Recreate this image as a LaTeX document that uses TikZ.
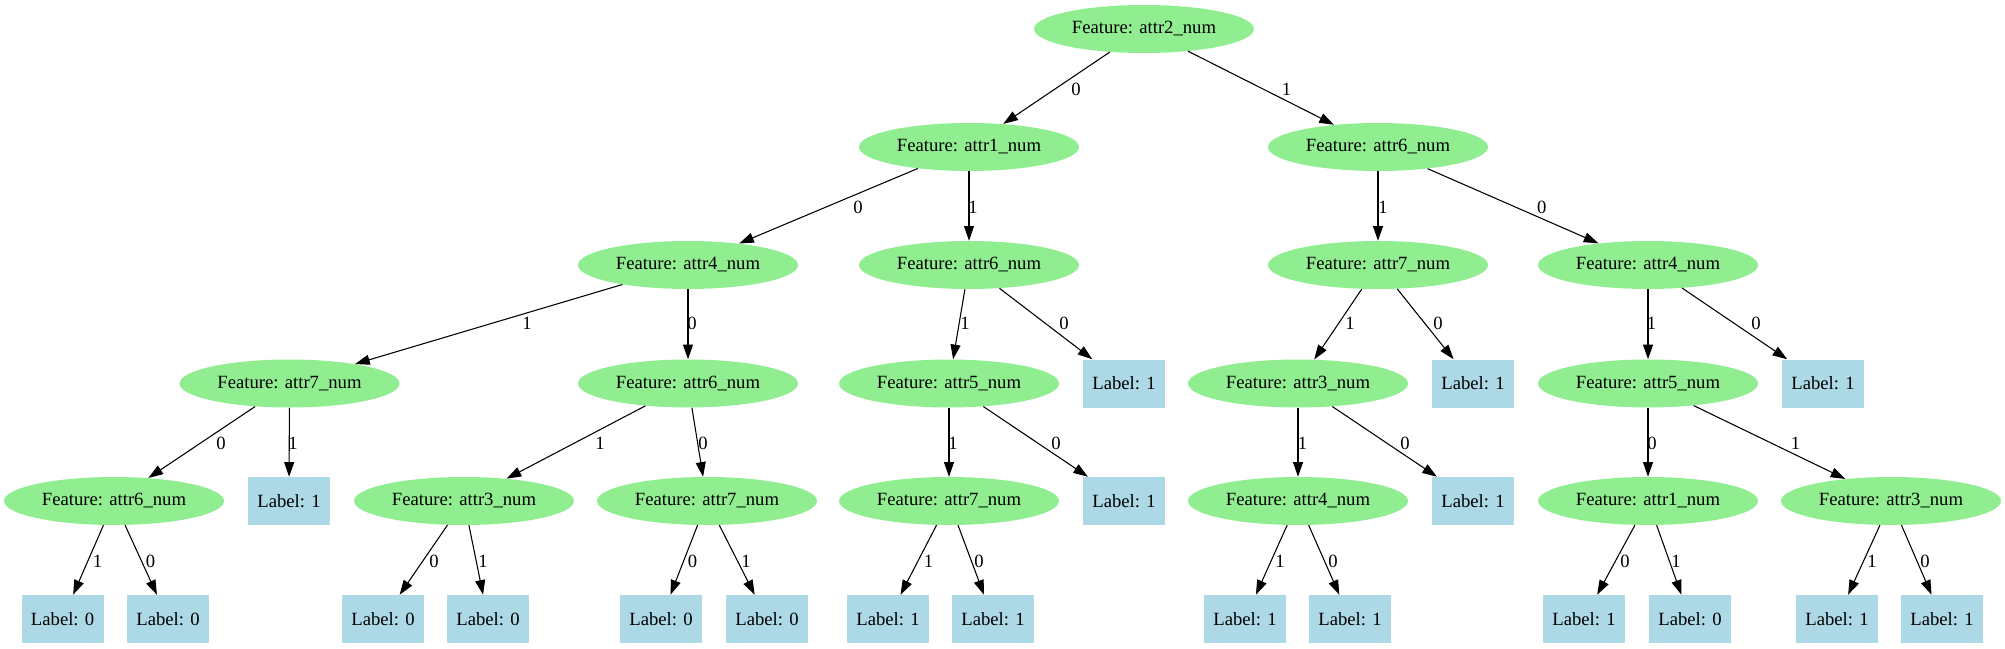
\documentclass[tikz,border=0pt]{standalone}
\usepackage{fontspec}
\setmainfont{Liberation Serif}
\usetikzlibrary{shapes.geometric,arrows.meta}
\definecolor{featgreen}{HTML}{90EE90}
\definecolor{leafblue}{HTML}{ADD8E6}
\tikzset{
	feat/.style={ellipse, fill=featgreen, minimum width=165pt, minimum height=36pt, inner sep=0pt},
	leaf/.style={rectangle, fill=leafblue, minimum width=61.5pt, minimum height=36pt, inner sep=0pt},
	edge/.style={line width=0.8pt, -{Triangle[length=11pt,width=7.5pt]}},
	elab/.style={inner sep=0pt}
}
\begin{document}
\begin{tikzpicture}[x=0.75pt, y=-0.75pt, font=\fontsize{14pt}{16pt}\selectfont]
		\useasboundingbox (0,0) rectangle (2005,649);
		% features
		\node[feat] (t) at (1144,29) {Feature: attr2\_num};
		\node[feat] (t0) at (969,147) {Feature: attr1\_num};
		\node[feat] (t1) at (1378,147) {Feature: attr6\_num};
		\node[feat] (t00) at (688,265) {Feature: attr4\_num};
		\node[feat] (t01) at (969,265) {Feature: attr6\_num};
		\node[feat] (t11) at (1378,265) {Feature: attr7\_num};
		\node[feat] (t10) at (1648,265) {Feature: attr4\_num};
		\node[feat] (t001) at (289.5,383.5) {Feature: attr7\_num};
		\node[feat] (t000) at (688,383.5) {Feature: attr6\_num};
		\node[feat] (t011) at (949,383.5) {Feature: attr5\_num};
		\node[leaf] (t010) at (1124,383.5) {Label: 1};
		\node[feat] (t111) at (1298,383.5) {Feature: attr3\_num};
		\node[leaf] (t110) at (1473,383.5) {Label: 1};
		\node[feat] (t101) at (1648,383.5) {Feature: attr5\_num};
		\node[leaf] (t100) at (1823,383.5) {Label: 1};
		\node[feat] (t0010) at (114,501) {Feature: attr6\_num};
		\node[leaf] (t0011) at (289,501) {Label: 1};
		\node[feat] (t0001) at (464,501) {Feature: attr3\_num};
		\node[feat] (t0000) at (707,501) {Feature: attr7\_num};
		\node[feat] (t0111) at (949,501) {Feature: attr7\_num};
		\node[leaf] (t0110) at (1124,501) {Label: 1};
		\node[feat] (t1111) at (1298,501) {Feature: attr4\_num};
		\node[leaf] (t1110) at (1473,501) {Label: 1};
		\node[feat] (t1010) at (1648,501) {Feature: attr1\_num};
		\node[feat] (t1011) at (1891,501) {Feature: attr3\_num};
		% leaves
		\node[leaf] (t00101) at (62.6,619) {Label: 0};
		\node[leaf] (t00100) at (168,619) {Label: 0};
		\node[leaf] (t00010) at (383,619) {Label: 0};
		\node[leaf] (t00011) at (488,619) {Label: 0};
		\node[leaf] (t00000) at (661,619) {Label: 0};
		\node[leaf] (t00001) at (767,619) {Label: 0};
		\node[leaf] (t01111) at (888,619) {Label: 1};
		\node[leaf] (t01110) at (993,619) {Label: 1};
		\node[leaf] (t11111) at (1245,619) {Label: 1};
		\node[leaf] (t11110) at (1350,619) {Label: 1};
		\node[leaf] (t10100) at (1584,619) {Label: 1};
		\node[leaf] (t10101) at (1690,619) {Label: 0};
		\node[leaf] (t10111) at (1837,619) {Label: 1};
		\node[leaf] (t10110) at (1942,619) {Label: 1};
		% edges
		\draw[edge] (t) -- (t0);
		\draw[edge] (t) -- (t1);
		\draw[edge] (t0) -- (t00);
		\draw[edge] (t0) -- (t01);
		\draw[edge] (t1) -- (t11);
		\draw[edge] (t1) -- (t10);
		\draw[edge] (t00) -- (t001);
		\draw[edge] (t00) -- (t000);
		\draw[edge] (t01) -- (t011);
		\draw[edge] (t01) -- (t010);
		\draw[edge] (t11) -- (t111);
		\draw[edge] (t11) -- (t110);
		\draw[edge] (t10) -- (t101);
		\draw[edge] (t10) -- (t100);
		\draw[edge] (t001) -- (t0010);
		\draw[edge] (t001) -- (t0011);
		\draw[edge] (t000) -- (t0001);
		\draw[edge] (t000) -- (t0000);
		\draw[edge] (t011) -- (t0111);
		\draw[edge] (t011) -- (t0110);
		\draw[edge] (t111) -- (t1111);
		\draw[edge] (t111) -- (t1110);
		\draw[edge] (t101) -- (t1010);
		\draw[edge] (t101) -- (t1011);
		\draw[edge] (t0010) -- (t00101);
		\draw[edge] (t0010) -- (t00100);
		\draw[edge] (t0001) -- (t00010);
		\draw[edge] (t0001) -- (t00011);
		\draw[edge] (t0000) -- (t00000);
		\draw[edge] (t0000) -- (t00001);
		\draw[edge] (t0111) -- (t01111);
		\draw[edge] (t0111) -- (t01110);
		\draw[edge] (t1111) -- (t11111);
		\draw[edge] (t1111) -- (t11110);
		\draw[edge] (t1010) -- (t10100);
		\draw[edge] (t1010) -- (t10101);
		\draw[edge] (t1011) -- (t10111);
		\draw[edge] (t1011) -- (t10110);
		% edge labels
		\node[elab] (e0) at (1076,89) {0};
		\node[elab] (e1) at (1286.5,89) {1};
		\node[elab] (e00) at (858,207) {0};
		\node[elab] (e01) at (973,207) {1};
		\node[elab] (e11) at (1383,207) {1};
		\node[elab] (e10) at (1541.7,207) {0};
		\node[elab] (e001) at (527,323.5) {1};
		\node[elab] (e000) at (692,323.5) {0};
		\node[elab] (e011) at (965,323.5) {1};
		\node[elab] (e010) at (1064,323.5) {0};
		\node[elab] (e111) at (1350,323.5) {1};
		\node[elab] (e110) at (1438,323.5) {0};
		\node[elab] (e101) at (1651.5,323.5) {1};
		\node[elab] (e100) at (1756,323.5) {0};
		\node[elab] (e0010) at (221,443) {0};
		\node[elab] (e0011) at (293,443) {1};
		\node[elab] (e0001) at (600,443) {1};
		\node[elab] (e0000) at (703,443) {0};
		\node[elab] (e0111) at (953,443) {1};
		\node[elab] (e0110) at (1056,443) {0};
		\node[elab] (e1111) at (1302.6,443) {1};
		\node[elab] (e1110) at (1405,443) {0};
		\node[elab] (e1010) at (1652,443) {0};
		\node[elab] (e1011) at (1795.5,443) {1};
		\node[elab] (e00101) at (97.6,561) {1};
		\node[elab] (e00100) at (150.5,561) {0};
		\node[elab] (e00010) at (434,561) {0};
		\node[elab] (e00011) at (483,561) {1};
		\node[elab] (e00000) at (692.6,561) {0};
		\node[elab] (e00001) at (746,561) {1};
		\node[elab] (e01111) at (928.6,561) {1};
		\node[elab] (e01110) at (979,561) {0};
		\node[elab] (e11111) at (1280,561) {1};
		\node[elab] (e11110) at (1333,561) {0};
		\node[elab] (e10100) at (1625,561) {0};
		\node[elab] (e10101) at (1676,561) {1};
		\node[elab] (e10111) at (1872,561) {1};
		\node[elab] (e10110) at (1925,561) {0};
	\end{tikzpicture}
\end{document}
